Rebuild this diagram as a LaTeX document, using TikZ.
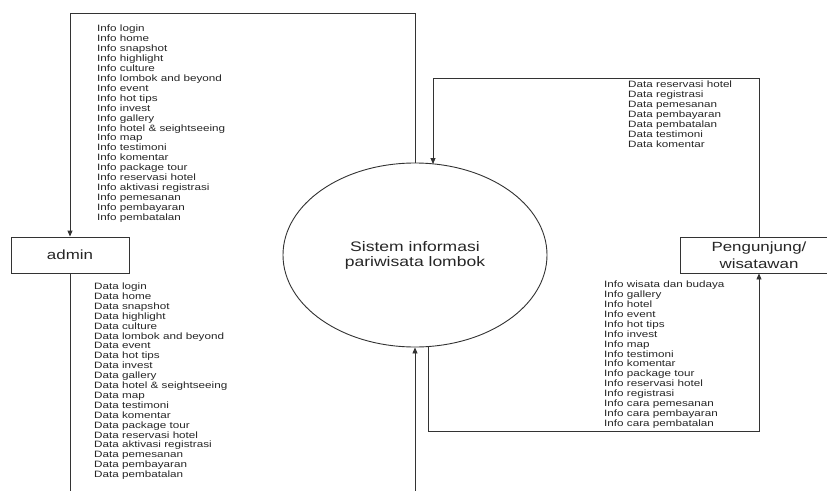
\documentclass[tikz,border=0pt]{standalone}
\usepackage{fontspec}
\setmainfont{Liberation Sans}[FakeStretch=1.27]
\usetikzlibrary{arrows.meta,shapes.geometric}
\begin{document}
\begin{tikzpicture}[x=1pt,y=-1pt,
  line/.style={draw=black!80, line width=0.9pt},
  flow/.style={line, -{Triangle[length=6pt,width=5pt]}},
  ent/.style={draw=black!80, line width=0.9pt, rectangle, inner sep=0pt,
    font=\fontsize{13.3}{16.5}\selectfont, text=black!85, align=center},
  proc/.style={draw=black!80, line width=0.9pt, ellipse, inner sep=0pt,
    minimum width=264pt, minimum height=184pt,
    font=\fontsize{13.8}{15}\selectfont, text=black!85, align=center},
  lst/.style={anchor=base west, inner sep=0pt,
    font=\fontsize{9.2}{10}\selectfont, text=black!85}]
\useasboundingbox (0,0) rectangle (827,490);
\clip (0,0) rectangle (827,490);
\fill[white] (0,0) rectangle (827,490);

% process and external entities
\node[proc] (sys) at (415,255) {Sistem informasi\\pariwisata lombok};
\node[ent, minimum width=118pt, minimum height=36pt] (admin) at (70,255) {admin};
\node[ent, minimum width=158pt, minimum height=36pt] (peng) at (759,255) {Pengunjung/\\wisatawan};

% bend points of the data flows
\coordinate (a1) at (415,13);
\coordinate (a2) at (70,13);
\coordinate (b1) at (70,500);
\coordinate (b2) at (415,500);
\coordinate (c1) at (759,78);
\coordinate (c2) at (433,78);
\coordinate (c3) at (433,164);
\coordinate (d0) at (428,346.5);
\coordinate (d1) at (428,431);
\coordinate (d2) at (759,431);

% data flows
\draw[flow] (sys.north) -- (a1) -- (a2) -- (admin.north);
\draw[flow] (admin.south) -- (b1) -- (b2) -- (sys.south);
\draw[flow] (peng.north) -- (c1) -- (c2) -- (c3);
\draw[flow] (d0) -- (d1) -- (d2) -- (peng.south);

% flow labels: system -> admin
\foreach \t [count=\i] in {Info login, Info home, Info snapshot, Info highlight,
  Info culture, Info lombok and beyond, Info event, Info hot tips, Info invest,
  Info gallery, Info hotel \& seightseeing, Info map, Info testimoni,
  Info komentar, Info package tour, Info reservasi hotel,
  Info aktivasi registrasi, Info pemesanan, Info pembayaran, Info pembatalan}
  \node[lst] (ia\i) at (97,{31.5+9.95*(\i-1)}) {\t};

% flow labels: admin -> system
\foreach \t [count=\i] in {Data login, Data home, Data snapshot, Data highlight,
  Data culture, Data lombok and beyond, Data event, Data hot tips, Data invest,
  Data gallery, Data hotel \& seightseeing, Data map, Data testimoni,
  Data komentar, Data package tour, Data reservasi hotel,
  Data aktivasi registrasi, Data pemesanan, Data pembayaran, Data pembatalan}
  \node[lst] (da\i) at (94,{289.5+9.9*(\i-1)}) {\t};

% flow labels: visitor -> system
\foreach \t [count=\i] in {Data reservasi hotel, Data registrasi, Data pemesanan,
  Data pembayaran, Data pembatalan, Data testimoni, Data komentar}
  \node[lst] (dp\i) at (628,{87.5+10*(\i-1)}) {\t};

% flow labels: system -> visitor
\foreach \t [count=\i] in {Info wisata dan budaya, Info gallery, Info hotel,
  Info event, Info hot tips, Info invest, Info map, Info testimoni,
  Info komentar, Info package tour, Info reservasi hotel, Info registrasi,
  Info cara pemesanan, Info cara pembayaran, Info cara pembatalan}
  \node[lst] (ip\i) at (604,{287.5+9.93*(\i-1)}) {\t};
\end{tikzpicture}
\end{document}
